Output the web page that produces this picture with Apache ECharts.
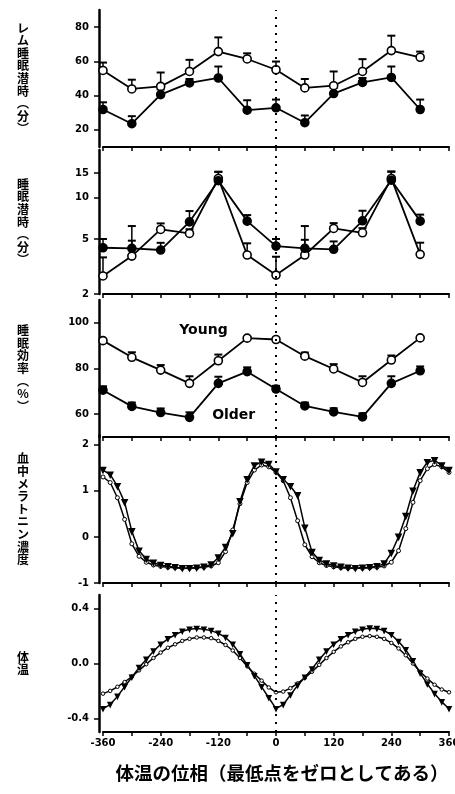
<!DOCTYPE html>
<html>
<head>
<meta charset="utf-8">
<script src="https://cdn.jsdelivr.net/npm/echarts@6/dist/echarts.min.js"></script>
<style>
html,body{margin:0;padding:0;background:#fff;}
#c{width:455px;height:794px;}
</style>
</head>
<body>
<div id="c"></div>
<script>
// ---- Data ----
var phase12 = [-360, -300, -240, -180, -120, -60, 0, 60, 120, 180, 240, 300];

var remYoung    = [54.7, 43.9, 45.4, 54.1, 65.7, 61.4, 55.1, 44.5, 45.8, 54.1, 66.3, 62.4];
var remYoungErr = [4.6, 5.4, 8.1, 6.8, 8.3, 3.3, 4.8, 5.2, 8.3, 7.2, 8.7, 3.3];
var remOlder    = [31.9, 23.6, 40.6, 47.4, 50.3, 31.5, 32.9, 24.2, 41.2, 47.7, 50.6, 31.9];
var remOlderErr = [4.2, 4.4, 3.0, 2.3, 6.7, 5.8, 4.8, 4.2, 3.3, 2.6, 6.4, 5.8];

var latYoung    = [2.70, 3.76, 5.86, 5.48, 13.7, 3.83, 2.74, 3.83, 5.96, 5.54, 13.7, 3.87];
var latYoungErr = [0.98, 1.1, 0.62, 0.4, 1.6, 0.82, 0.98, 1.1, 0.55, 0.45, 1.6, 0.83];
var latOlder    = [4.32, 4.28, 4.16, 6.65, 13.2, 6.73, 4.44, 4.28, 4.21, 6.77, 13.3, 6.73];
var latOlderErr = [0.68, 1.92, 0.53, 1.31, 2.1, 0.71, 0.56, 1.92, 0.59, 1.23, 2.1, 0.77];

var effYoung    = [92.2, 84.9, 79.3, 73.5, 83.4, 93.3, 92.7, 85.4, 79.8, 73.9, 83.7, 93.4];
var effYoungErr = [0.8, 2.2, 2.2, 3.1, 2.7, 0.6, 0.6, 1.6, 2.1, 2.7, 2.0, 0.5];
var effOlder    = [70.5, 63.4, 60.7, 58.6, 73.5, 78.6, 71.0, 63.6, 61.0, 58.8, 73.5, 79.0];
var effOlderErr = [1.7, 1.7, 1.8, 2.2, 2.9, 1.9, 1.4, 1.5, 1.6, 1.6, 3.1, 1.9];

var phase49 = [-360,-345,-330,-315,-300,-285,-270,-255,-240,-225,-210,-195,-180,-165,-150,-135,-120,-105,-90,-75,-60,-45,-30,-15,0,15,30,45,60,75,90,105,120,135,150,165,180,195,210,225,240,255,270,285,300,315,330,345,360];

var melA = [1.45,1.35,1.10,0.75,0.12,-0.30,-0.48,-0.56,-0.61,-0.64,-0.66,-0.68,-0.68,-0.67,-0.65,-0.60,-0.45,-0.22,0.08,0.77,1.25,1.55,1.63,1.58,
            1.42,1.25,1.10,0.90,0.20,-0.33,-0.50,-0.58,-0.62,-0.65,-0.67,-0.68,-0.67,-0.66,-0.64,-0.58,-0.35,0.00,0.45,1.00,1.40,1.62,1.66,1.55,1.45];
var melB = [1.30,1.18,0.85,0.38,-0.15,-0.42,-0.55,-0.61,-0.64,-0.66,-0.67,-0.68,-0.68,-0.67,-0.66,-0.63,-0.56,-0.32,0.15,0.72,1.18,1.45,1.56,1.52,
            1.40,1.22,0.85,0.35,-0.17,-0.43,-0.56,-0.62,-0.65,-0.67,-0.68,-0.68,-0.68,-0.67,-0.66,-0.63,-0.55,-0.30,0.18,0.75,1.22,1.48,1.57,1.52,1.40];

var tempA = [-0.33,-0.30,-0.24,-0.17,-0.10,-0.03,0.03,0.09,0.14,0.18,0.21,0.235,0.25,0.255,0.25,0.24,0.22,0.19,0.14,0.07,-0.01,-0.09,-0.17,-0.25,
             -0.33,-0.30,-0.23,-0.16,-0.10,-0.04,0.03,0.09,0.14,0.18,0.21,0.235,0.25,0.258,0.255,0.24,0.21,0.16,0.10,0.02,-0.07,-0.15,-0.22,-0.28,-0.33];
var tempB = [-0.22,-0.20,-0.17,-0.135,-0.095,-0.05,-0.005,0.04,0.08,0.115,0.14,0.165,0.18,0.19,0.19,0.185,0.165,0.135,0.095,0.04,-0.02,-0.075,-0.125,-0.175,
             -0.21,-0.205,-0.18,-0.145,-0.105,-0.06,-0.01,0.04,0.085,0.125,0.155,0.18,0.195,0.20,0.195,0.18,0.15,0.11,0.06,0.00,-0.06,-0.11,-0.155,-0.19,-0.21];

var yTitles = ['レ\nム\n睡\n眠\n潜\n時\n︵\n分\n︶', '睡\n眠\n潜\n時\n︵\n分\n︶', '睡\n眠\n効\n率\n︵\n%\n︶', '血\n中\nメ\nラ\nト\nニ\nン\n濃\n度', '体\n温'];
var xTitle = '体温の位相（最低点をゼロとしてある）';
var groupLabels = ['Young', 'Older'];
var groupLabelPos = [[-151, 96.5], [-88, 59.6]];

// ---- Helpers ----
function pairs(xs, ys) { return xs.map(function (x, i) { return [x, ys[i]]; }); }
function triples(xs, ys, es) { return xs.map(function (x, i) { return [x, ys[i], es[i]]; }); }

var FONT = 'DejaVu Sans';
var CJK = 'Noto Sans CJK JP';

var grids = [
  { left: 103, right: 6, top: 10, height: 137 },
  { left: 103, right: 6, top: 150, height: 144 },
  { left: 103, right: 6, top: 300, height: 137 },
  { left: 103, right: 6, top: 435.5, height: 147.5 },
  { left: 103, right: 6, top: 595, height: 137 }
];
grids.forEach(function (g) { g.outerBoundsMode = 'none'; g.containLabel = false; });

function xAxis(i, showLabels) {
  return {
    type: 'value', gridIndex: i, min: -360, max: 360, interval: 60,
    axisLine: { show: true, onZero: false, lineStyle: { color: '#000', width: 2 } },
    axisTick: { show: true, length: 4, lineStyle: { color: '#000', width: 1.5 } },
    axisLabel: {
      show: showLabels, margin: 6, color: '#000', fontFamily: FONT, fontWeight: 'bold', fontSize: 10,
      formatter: function (v) { return (v % 120 === 0) ? String(v) : ''; }
    },
    splitLine: { show: false },
    name: showLabels ? xTitle : '',
    nameLocation: 'middle', nameGap: 32,
    nameTextStyle: { color: '#000', fontFamily: CJK, fontWeight: 'bold', fontSize: 18.5, padding: [0, 0, 0, 12] }
  };
}

function yAxis(i, opts) {
  var ax = {
    type: opts.type || 'value', gridIndex: i, min: opts.min, max: opts.max, offset: 4,
    axisLine: { show: true, onZero: false, lineStyle: { color: '#000', width: 2.5 } },
    axisTick: { show: true, length: 5, customValues: opts.ticks, lineStyle: { color: '#000', width: 1.5 } },
    axisLabel: {
      customValues: opts.ticks, margin: 10, color: '#000', fontFamily: FONT, fontWeight: 'bold', fontSize: 10,
      formatter: opts.fmt || function (v) { return String(v); }
    },
    splitLine: { show: false },
    minorTick: { show: false },
    name: yTitles[i], nameLocation: 'middle', nameRotate: 0, nameGap: 76,
    nameTextStyle: {
      color: '#000', fontFamily: CJK, fontWeight: 'bold', fontSize: 12, lineHeight: 12.6,
      align: 'center', verticalAlign: 'middle', padding: opts.pad || 0
    }
  };
  if (opts.type === 'log') ax.logBase = 10;
  return ax;
}

function errRender(params, api) {
  var x = api.value(0), y = api.value(1), e = api.value(2);
  var p0 = api.coord([x, y]);
  var p1 = api.coord([x, y + e]);
  return {
    type: 'group',
    children: [
      { type: 'line', shape: { x1: p0[0], y1: p0[1], x2: p1[0], y2: p1[1] }, style: { stroke: '#000', lineWidth: 1.5 } },
      { type: 'line', shape: { x1: p1[0] - 4, y1: p1[1], x2: p1[0] + 4, y2: p1[1] }, style: { stroke: '#000', lineWidth: 2 } }
    ]
  };
}

function errSeries(i, ys, es) {
  return { type: 'custom', xAxisIndex: i, yAxisIndex: i, z: 1, renderItem: errRender, data: triples(phase12, ys, es), silent: true };
}

var dotted = {
  symbol: 'none', silent: true, label: { show: false },
  lineStyle: { color: '#000', type: [2, 6], width: 2 },
  data: [{ xAxis: 0 }]
};

function lineSeries(i, name, xs, ys, filled, extra) {
  var s = {
    type: 'line', name: name, xAxisIndex: i, yAxisIndex: i, z: 3,
    data: pairs(xs, ys),
    symbol: 'circle', symbolSize: 8, showAllSymbol: true,
    lineStyle: { color: '#000', width: 1.8 },
    itemStyle: { color: filled ? '#000' : '#fff', borderColor: '#000', borderWidth: 1.6 },
    emphasis: { disabled: true }, animation: false
  };
  if (extra) for (var k in extra) s[k] = extra[k];
  return s;
}

var series = [];
// Panel 1
series.push(errSeries(0, remYoung, remYoungErr));
series.push(errSeries(0, remOlder, remOlderErr));
series.push(lineSeries(0, 'Young', phase12, remYoung, false, { markLine: dotted }));
series.push(lineSeries(0, 'Older', phase12, remOlder, true));
// Panel 2
series.push(errSeries(1, latYoung, latYoungErr));
series.push(errSeries(1, latOlder, latOlderErr));
series.push(lineSeries(1, 'Young', phase12, latYoung, false, { markLine: dotted }));
series.push(lineSeries(1, 'Older', phase12, latOlder, true));
// Panel 3
series.push(errSeries(2, effYoung, effYoungErr));
series.push(errSeries(2, effOlder, effOlderErr));
series.push(lineSeries(2, 'Young', phase12, effYoung, false, { markLine: dotted }));
series.push(lineSeries(2, 'Older', phase12, effOlder, true));
// Group text labels in panel 3
series.push({
  type: 'scatter', xAxisIndex: 2, yAxisIndex: 2, z: 5, silent: true,
  symbol: 'rect', symbolSize: 1, itemStyle: { color: 'rgba(255,255,255,0)' },
  data: groupLabels.map(function (t, i) { return { name: t, value: groupLabelPos[i] }; }),
  label: { show: true, position: 'inside', color: '#000', opacity: 1, fontFamily: FONT, fontWeight: 'bold', fontSize: 14, formatter: '{b}' },
  emphasis: { disabled: true }
});
// Panel 4
series.push(lineSeries(3, 'B', phase49, melB, false, { symbol: 'circle', symbolSize: 4, lineStyle: { color: '#000', width: 1.5 }, itemStyle: { color: '#fff', borderColor: '#000', borderWidth: 1 }, markLine: dotted }));
series.push(lineSeries(3, 'A', phase49, melA, true, { symbol: 'triangle', symbolRotate: 180, symbolSize: 5, lineStyle: { color: '#000', width: 1.5 } }));
// Panel 5
series.push(lineSeries(4, 'B', phase49, tempB, false, { symbol: 'circle', symbolSize: 3.5, lineStyle: { color: '#000', width: 1.5 }, itemStyle: { color: '#fff', borderColor: '#000', borderWidth: 1 }, markLine: dotted }));
series.push(lineSeries(4, 'A', phase49, tempA, true, { symbol: 'triangle', symbolRotate: 180, symbolSize: 4, lineStyle: { color: '#000', width: 1.5 } }));

var option = {
  animation: false,
  backgroundColor: '#fff',
  grid: grids,
  xAxis: [xAxis(0, false), xAxis(1, false), xAxis(2, false), xAxis(3, false), xAxis(4, true)],
  yAxis: [
    yAxis(0, { min: 10, max: 90, ticks: [20, 40, 60, 80] }),
    yAxis(1, { type: 'log', min: 2, max: 22, ticks: [2, 5, 10, 15] }),
    yAxis(2, { min: 50, max: 110, ticks: [60, 80, 100], pad: [0, 0, 16, 0] }),
    yAxis(3, { min: -1, max: 2.2, ticks: [-1, 0, 1, 2], pad: [0, 0, 10, 0] }),
    yAxis(4, { min: -0.5, max: 0.5, ticks: [-0.4, 0, 0.4], pad: [24, 0, 0, 0], fmt: function (v) { return v.toFixed(1); } })
  ],
  series: series
};

var chart = echarts.init(document.getElementById('c'), null, { renderer: 'canvas' });
chart.setOption(option);
</script>
</body>
</html>
